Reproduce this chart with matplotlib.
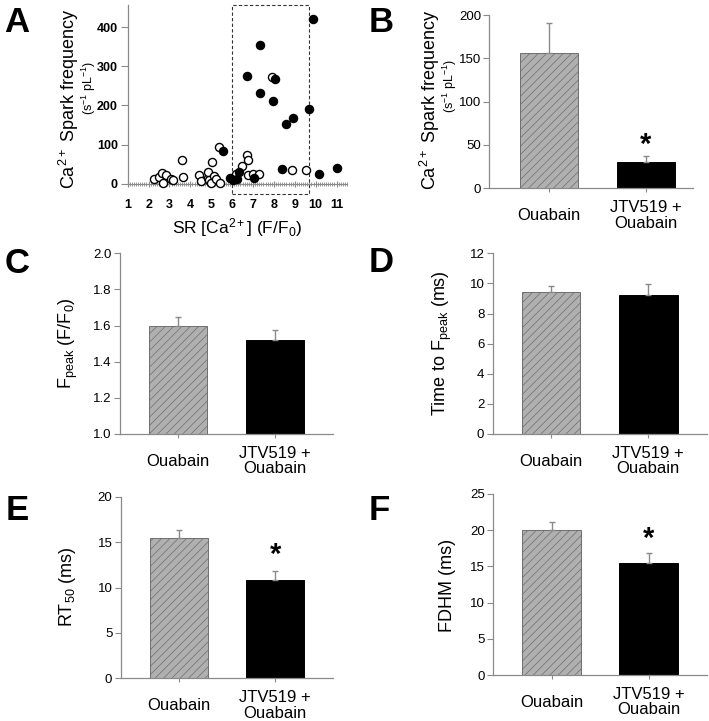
import numpy as np
import matplotlib.pyplot as plt
from matplotlib.patches import Rectangle
from matplotlib.ticker import MultipleLocator

plt.rcParams['font.family'] = ['Liberation Sans', 'DejaVu Sans']
plt.rcParams['mathtext.fontset'] = 'custom'
plt.rcParams['mathtext.rm'] = 'Liberation Sans'
plt.rcParams['mathtext.it'] = 'Liberation Sans:italic'
plt.rcParams['mathtext.bf'] = 'Liberation Sans:bold'
plt.rcParams['hatch.linewidth'] = 0.5

W, H = 709, 721
AXC = '#8a8a8a'  # spine / tick colour

# Panel A: SR load vs spark frequency
sr_open = [2.27, 2.51, 2.62, 2.70, 2.81, 3.05, 3.15, 3.62, 3.65, 4.40, 4.50, 4.83, 4.86,
           4.90, 4.99, 5.05, 5.15, 5.21, 5.44, 5.36, 6.20, 6.48, 6.71, 6.77, 6.77, 6.99,
           7.28, 7.92, 8.87, 9.54]
freq_open = [11, 18, 28, 1, 23, 12, 9, 61, 17, 22, 7, 15, 29,
             9, 3, 56, 20, 12, 2, 95, 26, 46, 73, 61, 22, 26,
             25, 272, 35, 35]
sr_filled = [9.86, 7.34, 6.71, 8.07, 7.34, 7.95, 9.66, 8.90, 8.58, 5.58, 8.39, 10.17,
             11.00, 6.33, 5.88, 6.04, 6.23, 7.03]
freq_filled = [421, 355, 275, 268, 233, 212, 190, 167, 152, 84, 38, 24,
               40, 29, 14, 10, 11, 15]

groups = ['Ouabain', 'JTV519 +\nOuabain']
spark_mean = [155.8, 30.8]
spark_sem = [34.6, 6.2]
fpeak_mean = [1.60, 1.52]
fpeak_sem = [0.05, 0.055]
ttp_mean = [9.41, 9.23]
ttp_sem = [0.44, 0.75]
rt50_mean = [15.4, 10.8]
rt50_sem = [0.9, 1.05]
fdhm_mean = [20.0, 15.5]
fdhm_sem = [1.15, 1.4]


def px_axes(fig, x0, y0, x1, y1):
    return fig.add_axes([x0 / W, 1 - y1 / H, (x1 - x0) / W, (y1 - y0) / H])


def style_spines(ax):
    for s in ['top', 'right']:
        ax.spines[s].set_visible(False)
    for s in ['left', 'bottom']:
        ax.spines[s].set_color(AXC)
        ax.spines[s].set_linewidth(0.9)


def bar_panel(ax, means, sems, ylim, yticks, fmt, star_y=None, xlim=(-0.6, 1.6)):
    style_spines(ax)
    ax.bar(0, means[0], 0.6, color='#b0b0b0', edgecolor='#6e6e6e', hatch='////', linewidth=0.7)
    ax.bar(1, means[1], 0.6, color='black', edgecolor='black', linewidth=0.7)
    ax.errorbar([0, 1], means, yerr=[[0, 0], sems], fmt='none', ecolor=AXC,
                elinewidth=1, capsize=2.5, capthick=1, zorder=3)
    ax.set_xlim(*xlim)
    ax.set_ylim(*ylim)
    ax.set_yticks(yticks)
    ax.set_yticklabels([fmt.format(v) for v in yticks], fontsize=9.5)
    ax.set_xticks([0, 1])
    ax.set_xticklabels(groups, fontsize=12, va='center', multialignment='center',
                       linespacing=1.05)
    ax.tick_params(axis='y', length=4, width=0.8, color=AXC, pad=2)
    ax.tick_params(axis='x', length=3, width=0.8, color=AXC, pad=16.5)
    if star_y is not None:
        ax.text(1, star_y, '*', fontsize=21, fontweight='bold', ha='center', va='center')


def ylab(x, y, s, size=13):
    fig.text(x / W, 1 - y / H, s, rotation=90, ha='center', va='center', fontsize=size)


def letter(x, y, s):
    fig.text(x / W, 1 - y / H, s, ha='center', va='baseline', fontsize=25, fontweight='bold')


fig = plt.figure(figsize=(W / 100, H / 100), dpi=100)

# ---- A ----
axA = px_axes(fig, 127.7, 5, 347, 183.7)
style_spines(axA)
axA.set_xlim(1, 11.5)
axA.set_ylim(0, 457)
axA.scatter(sr_open, freq_open, s=34, facecolors='white', edgecolors='black',
            linewidths=1, clip_on=False, zorder=3)
axA.scatter(sr_filled, freq_filled, s=34, color='black', clip_on=False, zorder=4)
axA.add_patch(Rectangle((6, -27), 3.7, 457 + 27, fill=False, ec='#333333', lw=0.8,
                        ls=(0, (3, 2)), clip_on=False, zorder=2))
axA.set_xticks(range(1, 12))
axA.set_xticklabels([str(v) for v in range(1, 12)], fontsize=9, fontweight='bold')
axA.xaxis.set_minor_locator(MultipleLocator(0.1))
axA.tick_params(axis='x', which='major', length=4, direction='inout', color=AXC, pad=9)
axA.tick_params(axis='x', which='minor', length=3, direction='inout', color=AXC, width=0.6)
axA.set_yticks([0, 100, 200, 300, 400])
axA.set_yticklabels(['0', '100', '200', '300', '400'], fontsize=9, fontweight='bold')
axA.tick_params(axis='y', length=5, width=0.8, color=AXC, pad=2)
fig.text(237 / W, 1 - 228 / H, 'SR [Ca$^{2+}$] (F/F$_0$)', ha='center', va='center', fontsize=12.5)
ylab(69, 99, 'Ca$^{2+}$ Spark frequency')
ylab(89, 88, '(s$^{-1}$ pL$^{-1}$)', size=9)

# ---- B ----
axB = px_axes(fig, 489.3, 15, 693, 188.3)
bar_panel(axB, spark_mean, spark_sem, (0, 200), [0, 50, 100, 150, 200], '{:.0f}',
          star_y=50, xlim=(-0.615, 1.49))
ylab(430, 100, 'Ca$^{2+}$ Spark frequency')
ylab(450, 86, '(s$^{-1}$ pL$^{-1}$)', size=9)

# ---- C ----
axC = px_axes(fig, 120, 253.3, 333, 434)
bar_panel(axC, fpeak_mean, fpeak_sem, (1.0, 2.0), [1.0, 1.2, 1.4, 1.6, 1.8, 2.0], '{:.1f}')
ylab(68, 343, 'F$_{\\mathrm{peak}}$ (F/F$_0$)')

# ---- D ----
axD = px_axes(fig, 492.7, 253.3, 706.7, 434)
bar_panel(axD, ttp_mean, ttp_sem, (0, 12), [0, 2, 4, 6, 8, 10, 12], '{:.0f}')
ylab(442, 343, 'Time to F$_{\\mathrm{peak}}$ (ms)')

# ---- E ----
axE = px_axes(fig, 120.7, 496.7, 333, 678.3)
bar_panel(axE, rt50_mean, rt50_sem, (0, 20), [0, 5, 10, 15, 20], '{:.0f}', star_y=13.6)
ylab(68, 587, 'RT$_{50}$ (ms)')

# ---- F ----
axF = px_axes(fig, 493.3, 494, 706.7, 675)
bar_panel(axF, fdhm_mean, fdhm_sem, (0, 25), [0, 5, 10, 15, 20, 25], '{:.0f}', star_y=18.8)
ylab(448, 585, 'FDHM (ms)')

letter(17, 31.7, 'A')
letter(381, 31.7, 'B')
letter(17.5, 273.3, 'C')
letter(381, 271.7, 'D')
letter(17, 520, 'E')
letter(379, 520, 'F')

fig.savefig('out.png', dpi=100)
